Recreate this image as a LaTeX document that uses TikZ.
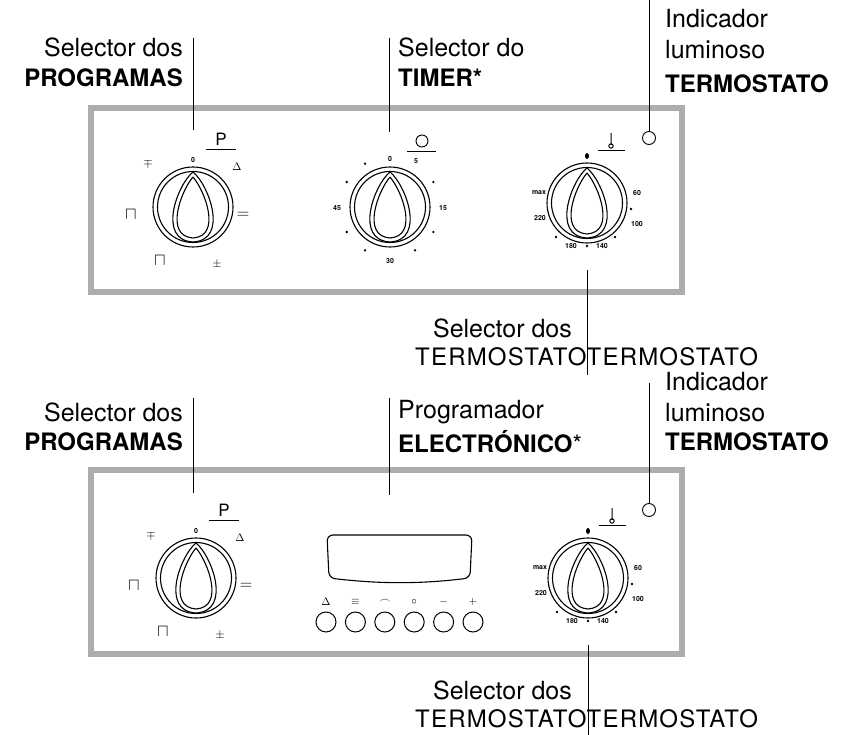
\documentclass[tikz,border=0pt]{standalone}
\usepackage{fontspec}
\setmainfont{TeX Gyre Heros}
\usetikzlibrary{positioning}
\tikzset{
    panel/.style = {draw=black!32, line width=5.5pt},
    lead/.style  = {draw, line width=0.9pt},
    lbl/.style   = {font=\fontsize{25}{28}\selectfont, inner sep=0pt},
    bold/.style  = {font=\fontsize{24}{28}\selectfont\bfseries, inner sep=0pt},
    wide/.style  = {font=\fontsize{24}{28}\selectfont\addfontfeature{LetterSpace=5}, inner sep=0pt},
    tick/.style  = {font=\fontsize{7}{8}\selectfont\bfseries, inner sep=0pt},
    lamp/.style  = {draw, circle, line width=0.9pt, minimum size=13pt, inner sep=0pt},
    key/.style   = {draw, circle, line width=1pt, minimum size=20pt, inner sep=0pt},
    pics/knob/.style = {code={
        \draw[line width=1.1pt] (0,0) circle (40) (0,0) circle (35.5);
        \draw[line width=1.1pt] (0,-35) .. controls (-16,-22) and (-36,33) .. (0,35)
                                        .. controls (36,33) and (16,-22) .. (0,-35);
        \draw[line width=1.1pt] (0,-30) .. controls (-12,-16) and (-29,29) .. (0,31)
                                        .. controls (29,29) and (12,-16) .. (0,-30);
    }}
}
\newcommand{\progmarks}{%
    \node[tick] (p0) at (0,-47) {0};
    \node[font=\fontsize{17}{17}\selectfont] (pP) at (28,-68) {P};
    \draw[line width=0.9pt] (13,-58) -- (43,-58);
    \node[font=\fontsize{12}{12}\selectfont\bfseries] (pa) at (-45,-43) {$\mp$};
    \node[font=\fontsize{11}{11}\selectfont] (pb) at (44,-40) {$\Delta$};
    \node[font=\fontsize{16}{16}\selectfont] (pc) at (-62,8) {$\sqcap$};
    \node[font=\fontsize{18}{18}\selectfont] (pd) at (50,8) {$=$};
    \node[font=\fontsize{16}{16}\selectfont] (pe) at (-33,54) {$\sqcap$};
    \node[font=\fontsize{12}{12}\selectfont\bfseries] (pf) at (24,57) {$\pm$};
}
\newcommand{\thermomarks}{%
    \fill (0,-47) ellipse (2 and 3);
    \draw[line width=0.9pt] (11,-53) -- (38,-53);
    \draw[line width=1pt] (24,-70) -- (24,-58) (24,-57) circle (2.2);
    \node[tick] (tmax) at (-48,-10) {max};
    \node[tick] (t60) at (50,-10) {60};
    \node[tick] (t100) at (50,21) {100};
    \node[tick] (t140) at (15,43) {140};
    \node[tick] (t180) at (-16,43) {180};
    \node[tick] (t220) at (-47,15) {220};
    \foreach \p in {(44,6), (28,34), (0,43), (-31,34)} \fill \p circle (1.3);
}
\begin{document}
\begin{tikzpicture}[x=1pt, y=-1pt]
\useasboundingbox (0,0) rectangle (848,735);
% upper panel
\draw[panel] (91,108) rectangle (682,292);
\pic at (193,207) {knob};
\begin{scope}[shift={(193,207)}] \progmarks \end{scope}
\pic at (390,207) {knob};
\begin{scope}[shift={(390,207)}]
    \node[tick] (m0) at (0,-48) {0};
    \node[tick] (m5) at (26,-46) {5};
    \node[tick] (m15) at (53,1) {15};
    \node[tick] (m30) at (0,54) {30};
    \node[tick] (m45) at (-53,1) {45};
    \foreach \a in {-120,-150,-30,30,60,120,150} \fill (\a:50) circle (1.3);
    \draw[line width=0.9pt] (17,-56) -- (46,-56);
    \draw[line width=0.9pt] (32,-66) circle (6);
\end{scope}
\pic at (587,203) {knob};
\begin{scope}[shift={(587,203)}] \thermomarks \end{scope}
\node[lamp] (lampA) at (649,138) {};
% upper labels
\node[lbl, anchor=east] (selP) at (183,47) {Selector dos};
\node[bold, anchor=east] (selPb) at (183,78) {PROGRAMAS};
\coordinate (selPtop) at (193,38);
\coordinate (selPbot) at (193,130);
\draw[lead] (selPtop) -- (selPbot);
\node[lbl, anchor=west] (selT) at (398,47) {Selector do};
\node[bold, anchor=west] (selTb) at (398,78) {TIMER*};
\coordinate (selTtop) at (389,38);
\coordinate (selTbot) at (389,132);
\draw[lead] (selTtop) -- (selTbot);
\node[lbl, anchor=west] (indA) at (665,19) {Indicador};
\node[lbl, anchor=west] (indAb) at (665,50) {luminoso};
\node[bold, anchor=west] (indAc) at (665,84) {TERMOSTATO};
\coordinate (lampAtop) at (649,0);
\draw[lead] (lampAtop) -- (lampA);
\node[lbl, anchor=east] (selG) at (572,328) {Selector dos};
\node[wide, anchor=west] (selGb) at (415,357) {TERMOSTATOTERMOSTATO};
\coordinate (selGtop) at (587,270);
\coordinate (selGbot) at (587,375);
\draw[lead] (selGtop) -- (selGbot);
% lower panel
\draw[panel] (91,470) rectangle (682,654);
\pic at (196,578) {knob};
\begin{scope}[shift={(196,578)}] \progmarks \end{scope}
\draw[line width=1.1pt, rounded corners=6pt] (327,535) -- (472,535) -- (470,578)
    .. controls (420,584) and (380,584) .. (329,578) -- cycle;
\foreach \i/\s in {1/{$\Delta$}, 2/{$\equiv$}, 3/{$\frown$}, 4/{$\circ$}, 5/{$-$}, 6/{$+$}} {
    \node[key] (k\i) at (296.6+29.4*\i,622) {};
    \node[font=\fontsize{11}{11}\selectfont] (s\i) at (296.6+29.4*\i,602) {\s};
}
\pic at (588,578) {knob};
\begin{scope}[shift={(588,578)}] \thermomarks \end{scope}
\node[lamp] (lampB) at (649,510) {};
% lower labels
\node[lbl, anchor=east] (selQ) at (183,412) {Selector dos};
\node[bold, anchor=east] (selQb) at (183,442) {PROGRAMAS};
\coordinate (selQtop) at (193,398);
\coordinate (selQbot) at (193,493);
\draw[lead] (selQtop) -- (selQbot);
\node[lbl, anchor=west] (prg) at (398,412) {Programador};
\node[bold, anchor=west] (prgb) at (398,442) {ELECTRÓNICO\textmd{*}};
\coordinate (prgtop) at (389,398);
\coordinate (prgbot) at (389,495);
\draw[lead] (prgtop) -- (prgbot);
\node[lbl, anchor=west] (indB) at (665,382) {Indicador};
\node[lbl, anchor=west] (indBb) at (665,413) {luminoso};
\node[bold, anchor=west] (indBc) at (665,442) {TERMOSTATO};
\coordinate (lampBtop) at (649,383);
\draw[lead] (lampBtop) -- (lampB);
\node[lbl, anchor=east] (selH) at (572,690) {Selector dos};
\node[wide, anchor=west] (selHb) at (415,719) {TERMOSTATOTERMOSTATO};
\coordinate (selHtop) at (588,645);
\coordinate (selHbot) at (588,735);
\draw[lead] (selHtop) -- (selHbot);
\end{tikzpicture}
\end{document}
